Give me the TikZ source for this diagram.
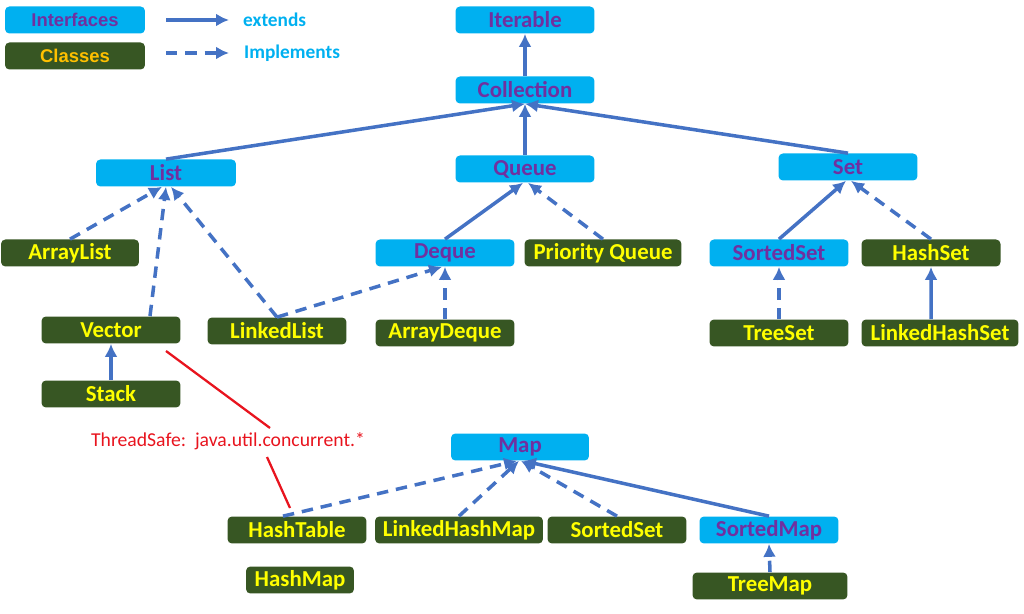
\documentclass[tikz,border=0pt]{standalone}
\usepackage{fontspec}
\setmainfont{Carlito}
\newfontfamily\legfont{Liberation Sans}
\usetikzlibrary{arrows.meta}
\definecolor{ifill}{HTML}{00B0F0}
\definecolor{itext}{HTML}{7030A0}
\definecolor{cfill}{HTML}{375623}
\definecolor{ctext}{HTML}{FFFF00}
\definecolor{legy}{HTML}{FFC000}
\definecolor{edge}{HTML}{4472C4}
\definecolor{redl}{HTML}{E8141E}
\tikzset{
  box/.style={rounded corners=2.5pt, minimum height=0.54cm, inner sep=0pt, font=\fontsize{13}{15}\selectfont\bfseries},
  iface/.style={box, fill=ifill, text=itext, minimum width=#1},
  cls/.style={box, fill=cfill, text=ctext, minimum width=#1},
  ext/.style={draw=edge, line width=2pt, -{Latex[length=2.6mm,width=2.6mm]}},
  impl/.style={ext, dash pattern=on 6.5pt off 4.5pt},
  redline/.style={draw=redl, line width=1.3pt},
}
\begin{document}
\begin{tikzpicture}[x=0.02cm,y=-0.02cm]
\useasboundingbox (0,0) rectangle (1024,614);
% legend
\node[iface=2.8cm, font=\legfont\fontsize{10.5}{12}\selectfont\bfseries] (lint) at (75,20) {Interfaces};
\node[cls=2.8cm, text=legy, font=\legfont\fontsize{10.5}{12}\selectfont\bfseries] (lcls) at (75,56) {Classes};
\coordinate (e1) at (166,20); \coordinate (e2) at (229,20);
\coordinate (i1) at (166,53); \coordinate (i2) at (229,53);
\draw[ext] (e1) -- (e2);
\draw[impl] (i1) -- (i2);
\node[anchor=west, text=ifill, font=\fontsize{11}{13}\selectfont\bfseries] (lext) at (237,20) {extends};
\node[anchor=west, text=ifill, font=\fontsize{11}{13}\selectfont\bfseries] (limp) at (238,53) {Implements};
% interfaces
\node[iface=2.78cm] (iter) at (525,20) {Iterable};
\node[iface=2.78cm] (coll) at (525,90) {Collection};
\node[iface=2.8cm] (list) at (166,173) {List};
\node[iface=2.78cm] (queue) at (525,169) {Queue};
\node[iface=2.78cm] (set) at (848,167) {Set};
\node[iface=2.78cm] (deque) at (445,253) {Deque};
\node[iface=2.78cm] (sset) at (779,253) {SortedSet};
\node[iface=2.76cm] (map) at (520,447) {Map};
\node[iface=2.78cm] (smap) at (769,530) {SortedMap};
% classes
\node[cls=2.76cm] (alist) at (70,253) {ArrayList};
\node[cls=2.78cm] (vector) at (111,330) {Vector};
\node[cls=2.78cm] (stack) at (111,394) {Stack};
\node[cls=2.78cm] (llist) at (277,331) {LinkedList};
\node[cls=3.14cm] (pq) at (603,253) {Priority Queue};
\node[cls=2.78cm] (adeque) at (445,333) {ArrayDeque};
\node[cls=2.78cm] (hset) at (931,253) {HashSet};
\node[cls=2.78cm] (tset) at (779,333) {TreeSet};
\node[cls=3.14cm] (lhset) at (940,333) {LinkedHashSet};
\node[cls=2.78cm] (htable) at (297,530) {HashTable};
\node[cls=3.36cm] (lhmap) at (459,530) {LinkedHashMap};
\node[cls=2.78cm] (msset) at (617,530) {SortedSet};
\node[cls=2.16cm] (hmap) at (300,580) {HashMap};
\node[cls=3.1cm] (tmap) at (770,586) {TreeMap};
% extends
\draw[ext] (coll.north) -- (iter.south);
\draw[ext] (list.north) -- (coll.south);
\draw[ext] (queue.north) -- (coll.south);
\draw[ext] (set.north) -- (coll.south);
\draw[ext] (stack.north) -- (vector.south);
\draw[ext] (deque.north) -- ([xshift=-0.04cm]queue.south);
\draw[ext] (sset.north) -- ([xshift=-0.04cm]set.south);
\draw[ext] ([xshift=-0.18cm]lhset.north) -- (hset.south);
\draw[ext] (smap.north) -- ([xshift=0.06cm]map.south);
% implements
\draw[impl] (alist.north) -- ([xshift=-0.08cm]list.south);
\draw[impl] ([xshift=0.78cm]vector.north) -- (list.south);
\draw[impl] (llist.north) -- ([xshift=0.1cm]list.south);
\draw[impl] (llist.north) -- ([xshift=-0.06cm]deque.south);
\draw[impl] (pq.north) -- ([xshift=0.06cm]queue.south);
\draw[impl] (adeque.north) -- (deque.south);
\draw[impl] (hset.north) -- ([xshift=0.06cm]set.south);
\draw[impl] (tset.north) -- (sset.south);
\draw[impl] ([xshift=-0.28cm]htable.north) -- ([xshift=-0.06cm]map.south);
\draw[impl] (lhmap.north) -- ([xshift=-0.02cm]map.south);
\draw[impl] (msset.north) -- ([xshift=0.02cm]map.south);
\draw[impl] (tmap.north) -- (smap.south);
% thread safe note
\node[text=redl, font=\fontsize{11.2}{13}\selectfont] (ts) at (228,441) {ThreadSafe:\ \ java.util.concurrent.*};
\coordinate (r1) at (166,351);
\coordinate (r2) at (270,428);
\coordinate (r3) at (267,457);
\coordinate (r4) at (290,508);
\draw[redline] (r1) -- (r2);
\draw[redline] (r3) -- (r4);
\end{tikzpicture}
\end{document}
